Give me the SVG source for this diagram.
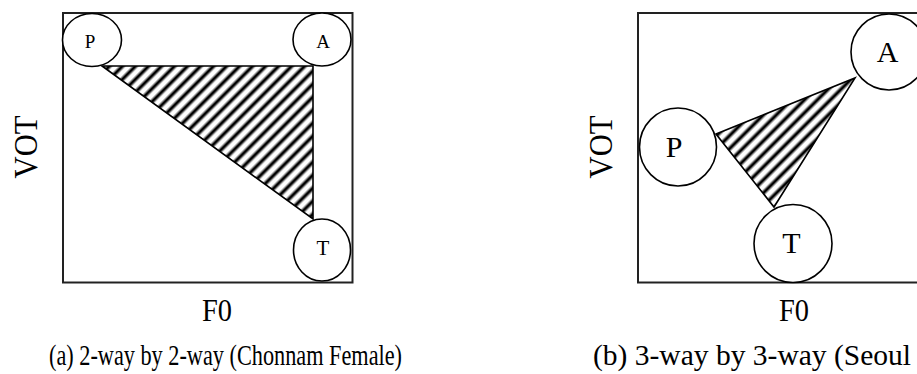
<svg xmlns="http://www.w3.org/2000/svg" width="917" height="374" viewBox="0 0 917 374">
<style>
.frame{fill:none;stroke:#222;stroke-width:2}
.node{fill:#fff;stroke:#000;stroke-width:1.6}
.tri{fill:url(#hatch);stroke:#000;stroke-width:1.6;stroke-linejoin:miter}
text{font-family:"Liberation Serif","Times New Roman",serif;fill:#000}
</style>
<defs>
<linearGradient id="stripe" x1="0" y1="0" x2="1" y2="0">
<stop offset="0" stop-color="#fff"/>
<stop offset="0.18" stop-color="#fff"/>
<stop offset="0.44" stop-color="#000"/>
<stop offset="0.56" stop-color="#000"/>
<stop offset="0.82" stop-color="#fff"/>
<stop offset="1" stop-color="#fff"/>
</linearGradient>
<pattern id="hatch" patternUnits="userSpaceOnUse" width="9.2" height="9.2" patternTransform="rotate(45)">
<rect width="9.2" height="9.2" fill="url(#stripe)"/>
</pattern>
</defs>
<rect fill="#fff" width="917" height="374"/>

<g id="panel-a">
<rect class="frame" x="63" y="13" width="289.5" height="269.5"/>
<g id="connectors-a">
<polygon class="tri" points="102,66 313,66 313,219"/>
</g>
<g id="a-P"><ellipse class="node" cx="92" cy="40" rx="29.5" ry="26.5"/><text x="90" y="48" font-size="19" text-anchor="middle">P</text></g>
<g id="a-A"><ellipse class="node" cx="322" cy="39.5" rx="29" ry="26.5"/><text x="323" y="48" font-size="19" text-anchor="middle">A</text></g>
<g id="a-T"><ellipse class="node" cx="322" cy="250" rx="28.5" ry="31"/><text x="323" y="255" font-size="21" text-anchor="middle">T</text></g>
<text transform="translate(37,147) rotate(-90)" font-size="34" text-anchor="middle" textLength="63" lengthAdjust="spacingAndGlyphs">VOT</text>
<text x="217" y="321" font-size="32" text-anchor="middle" textLength="30" lengthAdjust="spacingAndGlyphs">F0</text>
<text x="49" y="365" font-size="30" textLength="353" lengthAdjust="spacingAndGlyphs">(a) 2-way by 2-way (Chonnam Female)</text>
</g>

<g id="panel-b">
<rect class="frame" x="638" y="13" width="290" height="269.5"/>
<g id="connectors-b">
<polygon class="tri" points="716,134 855,78 774,207"/>
</g>
<g id="b-P"><ellipse class="node" cx="678" cy="147" rx="38.5" ry="39"/><text x="674" y="157" font-size="30" text-anchor="middle">P</text></g>
<g id="b-A"><ellipse class="node" cx="889" cy="52" rx="38" ry="38"/><text x="887.5" y="62" font-size="30" text-anchor="middle">A</text></g>
<g id="b-T"><ellipse class="node" cx="793" cy="243.5" rx="39" ry="39"/><text x="791.5" y="253" font-size="30" text-anchor="middle">T</text></g>
<text transform="translate(612,147) rotate(-90)" font-size="34" text-anchor="middle" textLength="63" lengthAdjust="spacingAndGlyphs">VOT</text>
<text x="794" y="321" font-size="32" text-anchor="middle" textLength="30" lengthAdjust="spacingAndGlyphs">F0</text>
<text x="593" y="365" font-size="30" textLength="318" lengthAdjust="spacingAndGlyphs">(b) 3-way by 3-way (Seoul</text>
</g>
</svg>
